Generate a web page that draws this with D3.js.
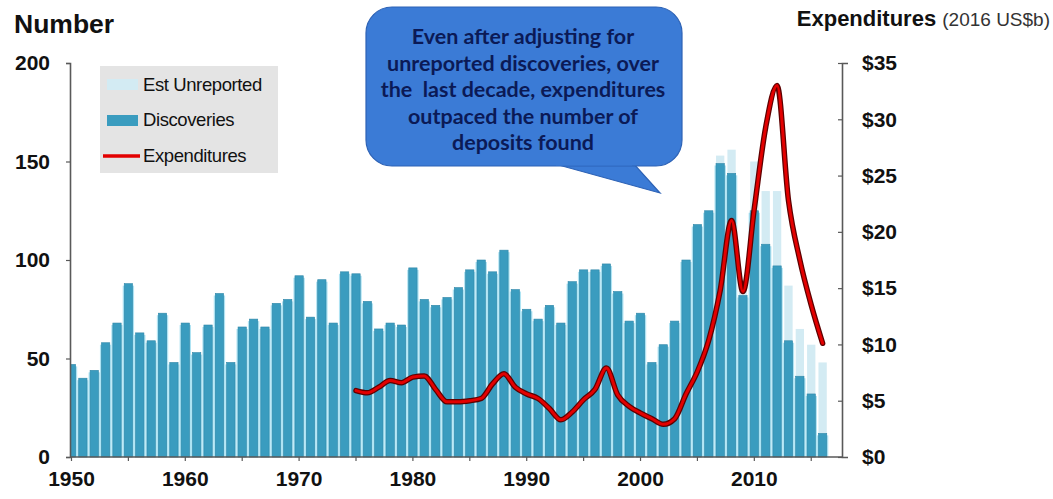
<!DOCTYPE html>
<html>
<head>
<meta charset="utf-8">
<script src="https://cdn.jsdelivr.net/npm/d3@7"></script>
<style>
  html, body { margin: 0; padding: 0; background: #ffffff; }
  svg { display: block; }
  text { font-family: "Liberation Sans", Arial, sans-serif; }
</style>
</head>
<body>
<svg id="chart" width="1053" height="499"></svg>
<script>
// Years 1950–2016
const years = d3.range(1950, 2017);

// Reported discoveries per year
const discoveries = [
  47, 40, 44, 58, 68, 88, 63, 59, 73, 48,
  68, 53, 67, 83, 48, 66, 70, 66, 78, 80,
  92, 71, 90, 68, 94, 93, 79, 65, 68, 67,
  96, 80, 77, 81, 86, 95, 100, 94, 105, 85,
  75, 70, 77, 68, 89, 95, 95, 98, 84, 69,
  73, 48, 57, 69, 100, 118, 125, 149, 144, 82,
  125, 108, 97, 59, 41, 32, 12
];

// Estimated unreported discoveries, stacked on top (recent years only)
const unreportedYears = [2007, 2008, 2009, 2010, 2011, 2012, 2013, 2014, 2015, 2016];
const unreported = [4, 12, 8, 25, 27, 38, 28, 24, 25, 36];

// Exploration expenditures, 2016 US$ billions
const expenditureYears = d3.range(1975, 2017);
const expenditures = [
  5.9, 5.7, 6.2, 6.8, 6.6, 7.1, 7.2, 6.0, 4.9, 4.9,
  5.0, 5.2, 6.5, 7.4, 6.2, 5.6, 5.2, 4.3, 3.3, 4.0,
  5.1, 6.0, 7.9, 5.5, 4.5, 3.9, 3.4, 2.9, 3.4, 5.6,
  7.6, 10.4, 14.8, 21.0, 14.7, 22.1, 29.3, 33.0, 22.8, 17.5,
  13.5, 10.1
];

const leftTicks = [0, 50, 100, 150, 200];
const rightTicks = [0, 5, 10, 15, 20, 25, 30, 35];
const legendLabels = ["Est Unreported", "Discoveries", "Expenditures"];
const calloutLines = [
  "Even after adjusting for",
  "unreported discoveries, over",
  "the  last decade, expenditures",
  "outpaced the number of",
  "deposits found"
];

const C = {
  bar: "#3a9cbf",
  barEdge: "#2f87a8",
  gap: "#aee3f3",
  unrep: "#d3ebf3",
  line: "#e30000",
  lineEdge: "#5e0000",
  axis: "#595959",
  text: "#111111"
};

const svg = d3.select("#chart");
const plot = { left: 70, right: 842, top: 63, bottom: 457 };

const x = d3.scaleBand()
  .domain(years)
  .range([65.8, 828.3])
  .paddingInner(0.27)
  .paddingOuter(0.135);

const yL = d3.scaleLinear().domain([0, 200]).range([plot.bottom, plot.top]);
const yR = d3.scaleLinear().domain([0, 35]).range([plot.bottom, plot.top]);

const unrepMap = new Map(unreportedYears.map((yr, i) => [yr, unreported[i]]));
const rows = years.map((yr, i) => ({
  year: yr,
  disc: discoveries[i],
  extra: unrepMap.get(yr) || 0
}));

svg.append("defs").append("clipPath").attr("id", "plotClip")
  .append("rect")
  .attr("x", plot.left + 0.5).attr("y", 0)
  .attr("width", plot.right - plot.left).attr("height", plot.bottom + 1);

const bars = svg.append("g").attr("clip-path", "url(#plotClip)");
const step = x.step();

// light fill in the spaces between neighbouring columns
bars.selectAll("rect.gap").data(rows).join("rect")
  .attr("class", "gap")
  .attr("x", d => x(d.year) + x.bandwidth() / 2 - step / 2)
  .attr("width", step)
  .attr("y", d => yL(d.disc) + 2)
  .attr("height", d => yL(0) - yL(d.disc) - 2)
  .attr("fill", C.gap);

// estimated unreported, stacked above the reported count
bars.selectAll("rect.unrep").data(rows.filter(d => d.extra > 0)).join("rect")
  .attr("class", "unrep")
  .attr("x", d => x(d.year))
  .attr("width", x.bandwidth())
  .attr("y", d => yL(d.disc + d.extra))
  .attr("height", d => yL(d.disc) - yL(d.disc + d.extra))
  .attr("fill", C.unrep);

// reported discoveries
bars.selectAll("rect.disc").data(rows).join("rect")
  .attr("class", "disc")
  .attr("x", d => x(d.year))
  .attr("width", x.bandwidth())
  .attr("y", d => yL(d.disc))
  .attr("height", d => yL(0) - yL(d.disc))
  .attr("fill", C.bar)
  .attr("stroke", C.barEdge)
  .attr("stroke-width", 0.6);

// axes
const axisStyle = g => {
  g.selectAll("path.domain").attr("stroke", C.axis).attr("stroke-width", 1.6);
  g.selectAll(".tick line").attr("stroke", C.axis).attr("stroke-width", 1.2);
  g.selectAll(".tick text")
    .attr("fill", C.text)
    .style("font-weight", "bold")
    .style("font-size", "21px");
};

svg.append("g")
  .attr("transform", `translate(${plot.left},0)`)
  .call(d3.axisLeft(yL).tickValues(leftTicks).tickSize(4).tickSizeOuter(4).tickPadding(16).tickFormat(d3.format("d")))
  .call(axisStyle);

svg.append("g")
  .attr("transform", `translate(${plot.right},0)`)
  .call(d3.axisRight(yR).tickValues(rightTicks).tickSize(-4).tickSizeOuter(6).tickPadding(20).tickFormat(d => "$" + d))
  .call(axisStyle);

const xAxis = d3.axisBottom(x)
  .tickValues(years.filter(d => d % 5 === 0))
  .tickSize(4)
  .tickSizeOuter(0)
  .tickPadding(10)
  .tickFormat(d => d % 10 === 0 ? d : "");

svg.append("g")
  .attr("transform", `translate(0,${plot.bottom})`)
  .call(xAxis)
  .call(axisStyle)
  .call(g => g.select("path.domain").attr("d", `M${plot.left},0H${plot.right}`));

// expenditures line, drawn against the right axis
const line = d3.line()
  .x((d, i) => x(expenditureYears[i]) + x.bandwidth() / 2)
  .y(d => yR(d))
  .curve(d3.curveMonotoneX);

svg.append("path").datum(expenditures)
  .attr("d", line).attr("fill", "none")
  .attr("stroke", C.lineEdge).attr("stroke-width", 5.5)
  .attr("stroke-linejoin", "round").attr("stroke-linecap", "round");
svg.append("path").datum(expenditures)
  .attr("d", line).attr("fill", "none")
  .attr("stroke", C.line).attr("stroke-width", 3)
  .attr("stroke-linejoin", "round").attr("stroke-linecap", "round");

// axis titles
svg.append("text")
  .attr("x", 14).attr("y", 33)
  .attr("fill", C.text)
  .style("font-weight", "bold").style("font-size", "26.5px")
  .text("Number");

const rt = svg.append("text")
  .attr("x", 1050).attr("y", 26)
  .attr("text-anchor", "end")
  .attr("fill", C.text);
rt.append("tspan").style("font-weight", "bold").style("font-size", "22px").text("Expenditures ");
rt.append("tspan").style("font-size", "19px").attr("fill", "#333").text("(2016 US$b)");

// legend
const lg = svg.append("g").attr("transform", "translate(100,66)");
lg.append("rect").attr("width", 178).attr("height", 107).attr("fill", "#e4e4e4");
const legendY = [19, 54, 90];
lg.append("rect").attr("x", 7).attr("y", legendY[0] - 6).attr("width", 31).attr("height", 11).attr("fill", C.unrep);
lg.append("rect").attr("x", 7).attr("y", legendY[1] - 5).attr("width", 31).attr("height", 11).attr("fill", C.bar);
lg.append("line").attr("x1", 3).attr("x2", 40).attr("y1", legendY[2]).attr("y2", legendY[2])
  .attr("stroke", C.line).attr("stroke-width", 3.5);
lg.selectAll("text.lbl").data(legendLabels).join("text")
  .attr("class", "lbl")
  .attr("x", 43)
  .attr("y", (d, i) => legendY[i] + 6)
  .attr("fill", C.text)
  .style("font-size", "18.5px")
  .style("letter-spacing", "-0.4px")
  .text(d => d);

// callout bubble
const cb = svg.append("g");
cb.append("path")
  .attr("d", "M555,164 L660,193 L634,164 Z")
  .attr("fill", "#3b7bd6").attr("stroke", "#2d62b5").attr("stroke-width", 1.2);
cb.append("rect")
  .attr("x", 366).attr("y", 7).attr("width", 316).attr("height", 159).attr("rx", 26)
  .attr("fill", "#3b7bd6").attr("stroke", "#2d62b5").attr("stroke-width", 1.2);
cb.append("rect")
  .attr("x", 556).attr("y", 160).attr("width", 76).attr("height", 5.4)
  .attr("fill", "#3b7bd6");
cb.selectAll("text").data(calloutLines).join("text")
  .attr("x", 523)
  .attr("y", (d, i) => 44 + i * 26.5)
  .attr("text-anchor", "middle")
  .attr("fill", "#0b1a56")
  .style("font-family", "Lato, 'Open Sans', sans-serif")
  .style("font-weight", "bold")
  .style("font-size", "21.5px")
  .style("white-space", "pre")
  .text(d => d);
</script>
</body>
</html>
